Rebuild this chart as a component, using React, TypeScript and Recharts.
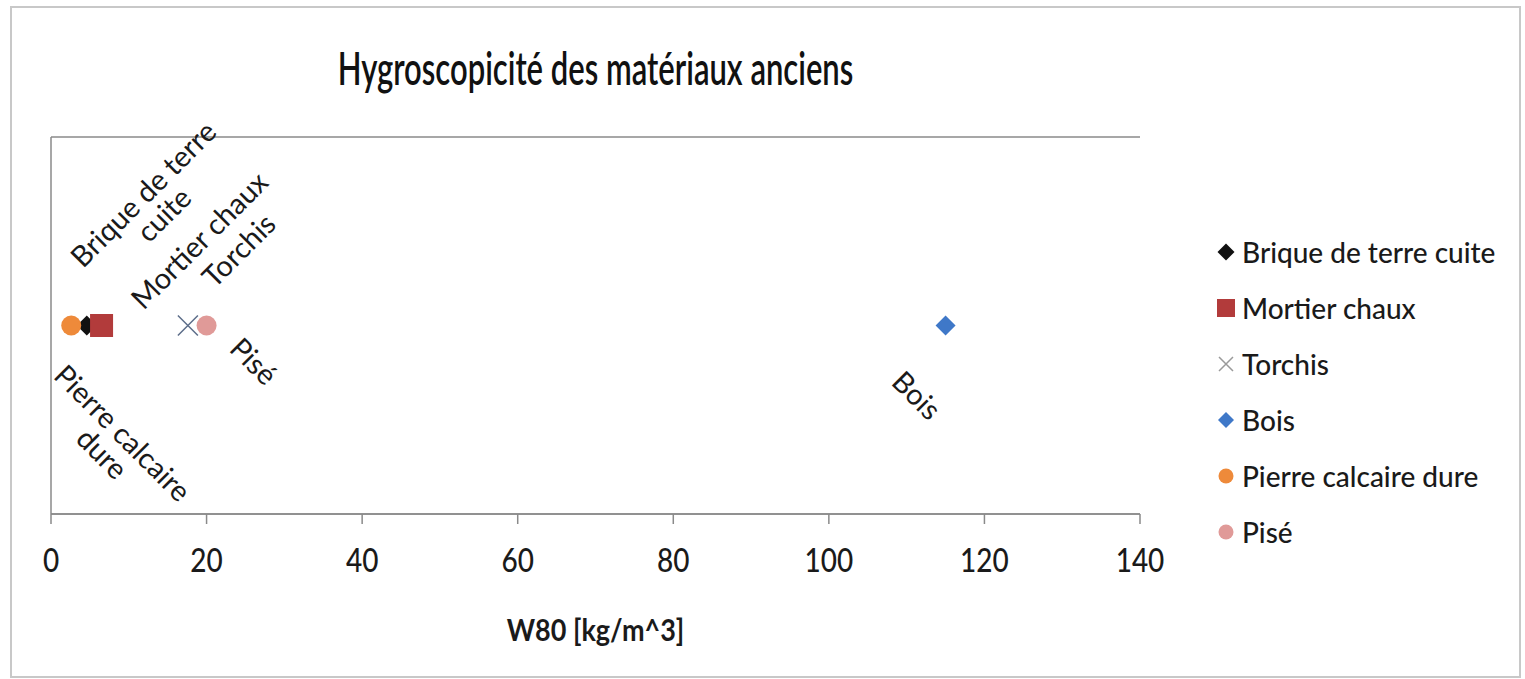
import React from 'react';
import { ScatterChart, Scatter, XAxis, YAxis, CartesianGrid, Legend } from 'recharts';

// W80 moisture content, one point per material
const SERIES_NAMES = ['Brique de terre cuite', 'Mortier chaux', 'Torchis', 'Bois', 'Pierre calcaire dure', 'Pisé'];
const W80_VALUES = [4.6, 6.5, 17.6, 115, 2.6, 20];
const Y_VALUES = [0, 0, 0, 0, 0, 0];
const POINT_LABELS = [['Brique de terre', 'cuite'], ['Mortier chaux'], ['Torchis'], ['Bois'], ['Pierre calcaire', 'dure'], ['Pisé']];
const X_TICKS = [0, 20, 40, 60, 80, 100, 120, 140];
const Y_TICKS = [-1, 0, 1];

const COLORS = ['#111111', '#b23b3b', '#5d6e8a', '#3f78c8', '#ee8a3a', '#e09a98'];
const LEGEND_COLORS = ['#111111', '#b23b3b', '#9a9a9a', '#3f78c8', '#ee8a3a', '#e09a98'];
const MARKERS = ['diamond', 'square', 'x', 'diamond', 'circle', 'circle'];
const MARKER_SIZES = [20, 23, 20, 20, 20, 20];
const LEGEND_MARKER_SIZES = [17, 18, 14, 16, 15, 15];

// where each data label sits relative to its point (text block centre) and its rotation
const LABEL_POS = [
  { dx: 67, dy: -121, rot: -45 },
  { dx: 98, dy: -85, rot: -45 },
  { dx: 51, dy: -75, rot: -45 },
  { dx: -29, dy: 70, rot: 45 },
  { dx: 41, dy: 118, rot: 45 },
  { dx: 47, dy: 36, rot: 45 },
];

const FONT = 'Lato, "Open Sans", sans-serif';
const GRID = '#8a8a8a';

function drawMarker(kind: string, cx: number, cy: number, color: string, size: number) {
  const r = size / 2;
  if (kind === 'diamond') {
    return <polygon points={`${cx},${cy - r} ${cx + r},${cy} ${cx},${cy + r} ${cx - r},${cy}`} fill={color} />;
  }
  if (kind === 'square') {
    return <rect x={cx - r} y={cy - r} width={size} height={size} fill={color} />;
  }
  if (kind === 'x') {
    return (
      <path
        d={`M${cx - r},${cy - r}L${cx + r},${cy + r}M${cx - r},${cy + r}L${cx + r},${cy - r}`}
        stroke={color}
        strokeWidth={1.5}
        fill="none"
      />
    );
  }
  return <circle cx={cx} cy={cy} r={r} fill={color} />;
}

function makeShape(i: number) {
  return (props: any) => {
    const { cx, cy } = props;
    if (cx == null || cy == null) return <g />;
    const pos = LABEL_POS[i];
    const lines = POINT_LABELS[i];
    const fs = 29;
    const lh = 29;
    return (
      <g>
        {drawMarker(MARKERS[i], cx, cy, COLORS[i], MARKER_SIZES[i])}
        <g transform={`translate(${cx + pos.dx},${cy + pos.dy}) rotate(${pos.rot})`}>
          <text textAnchor="middle" fontFamily={FONT} fontSize={fs} fill="#1a1a1a">
            {lines.map((line, k) => (
              <tspan key={k} x={0} y={-((lines.length - 1) * lh) / 2 + k * lh + fs * 0.35}>
                {line}
              </tspan>
            ))}
          </text>
        </g>
      </g>
    );
  };
}

const XTick = (props: any) => {
  const { x, y, payload } = props;
  return (
    <g transform={`translate(${x},${y + 46}) scale(1,1.15)`}>
      <text x={0} y={0} textAnchor="middle" fontFamily={FONT} fontWeight={500} fontSize={28} fill="#1a1a1a">
        {payload.value}
      </text>
    </g>
  );
};

const AxisTitle = (props: any) => {
  const vb = props.viewBox || { x: 51, y: 514, width: 1089 };
  return (
    <g transform={`translate(${vb.x + vb.width / 2},${vb.y + 127}) scale(1,1.15)`}>
      <text x={0} y={0} textAnchor="middle" fontFamily={FONT} fontWeight="bold" fontSize={27} fill="#1a1a1a">
        W80 [kg/m^3]
      </text>
    </g>
  );
};

const renderLegend = (props: any) => {
  const payload = [...(props.payload || [])].sort(
    (a: any, b: any) => SERIES_NAMES.indexOf(a.value) - SERIES_NAMES.indexOf(b.value)
  );
  return (
    <div style={{ fontFamily: FONT, fontSize: 28, fontWeight: 500, color: '#1a1a1a' }}>
      {payload.map((entry: any) => {
        const i = SERIES_NAMES.indexOf(entry.value);
        return (
          <div key={entry.value} style={{ height: 56, display: 'flex', alignItems: 'center' }}>
            <svg width={24} height={24} style={{ display: 'block' }}>
              {drawMarker(MARKERS[i], 12, 12, LEGEND_COLORS[i], LEGEND_MARKER_SIZES[i])}
            </svg>
            <span style={{ marginLeft: 4, whiteSpace: 'nowrap' }}>{entry.value}</span>
          </div>
        );
      })}
    </div>
  );
};

export default function App() {
  const seriesData = SERIES_NAMES.map((name, i) => [{ x: W80_VALUES[i], y: Y_VALUES[i], name }]);

  return (
    <div style={{ position: 'absolute', left: 0, top: 0, width: 1525, height: 679, background: '#ffffff' }}>
      <div
        style={{
          position: 'absolute',
          left: 10,
          top: 6,
          width: 1511,
          height: 672,
          border: '2px solid #c8c8c8',
          boxSizing: 'border-box',
        }}
      />
      <div
        style={{
          position: 'absolute',
          left: 0,
          top: 49,
          width: 1191,
          textAlign: 'center',
          fontFamily: FONT,
          fontWeight: 600,
          fontSize: 31,
          lineHeight: '37px',
          color: '#111111',
        }}
      >
        <span style={{ display: 'inline-block', transform: 'scaleY(1.5)', whiteSpace: 'nowrap' }}>
          Hygroscopicité des matériaux anciens
        </span>
      </div>
      <div style={{ position: 'absolute', left: 0, top: 0 }}>
        <ScatterChart width={1525} height={679} margin={{ top: 137, right: 385, bottom: 25, left: 0 }}>
          <CartesianGrid vertical={false} stroke={GRID} strokeWidth={1.5} />
          <XAxis
            type="number"
            dataKey="x"
            domain={[0, 140]}
            ticks={X_TICKS}
            interval={0}
            height={140}
            tickSize={10}
            stroke={GRID}
            strokeWidth={1.5}
            tick={<XTick />}
            label={<AxisTitle />}
          />
          <YAxis
            type="number"
            dataKey="y"
            domain={[-1, 1]}
            ticks={Y_TICKS}
            width={51}
            tickSize={9}
            stroke={GRID}
            strokeWidth={1.5}
            tick={false}
          />
          <Legend
            layout="vertical"
            align="center"
            verticalAlign="middle"
            content={renderLegend}
            wrapperStyle={{ left: 1214, top: 224, width: 300 }}
          />
          {SERIES_NAMES.map((name, i) => (
            <Scatter
              key={name}
              name={name}
              data={seriesData[i]}
              fill={LEGEND_COLORS[i]}
              shape={makeShape(i)}
              isAnimationActive={false}
            />
          ))}
        </ScatterChart>
      </div>
    </div>
  );
}
